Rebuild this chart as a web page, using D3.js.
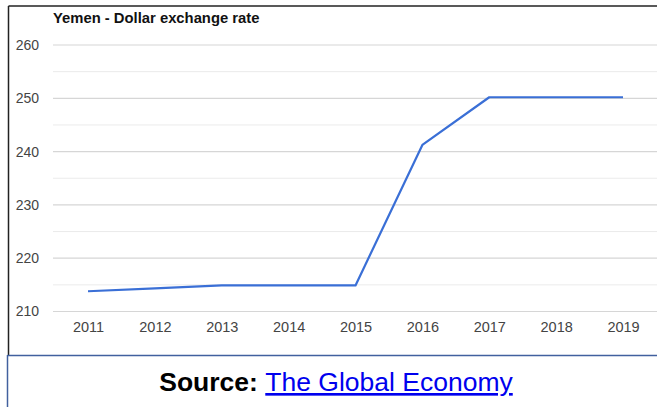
<!DOCTYPE html>
<html>
<head>
<meta charset="utf-8">
<script src="https://cdn.jsdelivr.net/npm/d3@7"></script>
<style>
  html, body { margin: 0; padding: 0; background: #fff; }
  svg { display: block; font-family: "Liberation Sans", Arial, sans-serif; }
</style>
</head>
<body>
<svg id="chart" width="657" height="407"></svg>
<script>
// Yemen: official rate, rials per US dollar
const years = ["2011", "2012", "2013", "2014", "2015", "2016", "2017", "2018", "2019"];
const rates = [213.8, 214.35, 214.89, 214.89, 214.89, 241.25, 250.2, 250.2, 250.2];
const majorTicks = [210, 220, 230, 240, 250, 260];
const minorTicks = [215, 225, 235, 245, 255];

const svg = d3.select("#chart");

const x = d3.scalePoint().domain(years).range([88, 623]);
const y = d3.scaleLinear().domain([210, 260]).range([311.5, 45]);

// frame around the chart panel
svg.append("line").attr("x1", 8.5).attr("x2", 657).attr("y1", 6).attr("y2", 6)
  .attr("stroke", "#222").attr("stroke-width", 1.5);
svg.append("line").attr("x1", 8.5).attr("x2", 8.5).attr("y1", 6).attr("y2", 355)
  .attr("stroke", "#222").attr("stroke-width", 1.5);

// caption box edges
svg.append("line").attr("x1", 7.5).attr("x2", 657).attr("y1", 355.5).attr("y2", 355.5)
  .attr("stroke", "#41609e").attr("stroke-width", 1.5);
svg.append("line").attr("x1", 7.5).attr("x2", 7.5).attr("y1", 355).attr("y2", 407)
  .attr("stroke", "#41609e").attr("stroke-width", 1.5);

// gridlines
const grid = svg.append("g");
grid.selectAll("line.minor").data(minorTicks).join("line")
  .attr("class", "minor")
  .attr("x1", 53).attr("x2", 657)
  .attr("y1", d => y(d)).attr("y2", d => y(d))
  .attr("stroke", "#ebebeb").attr("stroke-width", 1);
grid.selectAll("line.major").data(majorTicks).join("line")
  .attr("class", "major")
  .attr("x1", 53).attr("x2", 657)
  .attr("y1", d => y(d)).attr("y2", d => y(d))
  .attr("stroke", "#d6d6d6").attr("stroke-width", 1.2);

// y axis labels
const yAxis = d3.axisLeft(y).tickValues(majorTicks).tickSize(0).tickPadding(0);
svg.append("g").attr("transform", "translate(39,0)").call(yAxis)
  .call(g => g.select(".domain").remove())
  .call(g => g.selectAll("text")
    .attr("fill", "#444").attr("font-size", 14)
    .attr("font-family", "Liberation Sans, Arial, sans-serif"));

// x axis labels
const xAxis = d3.axisBottom(x).tickSize(0).tickPadding(0);
svg.append("g").attr("transform", "translate(0,322)").call(xAxis)
  .call(g => g.select(".domain").remove())
  .call(g => g.selectAll("text")
    .attr("fill", "#444").attr("font-size", 14.5)
    .attr("font-family", "Liberation Sans, Arial, sans-serif"));

// series line
const line = d3.line().x((d, i) => x(years[i])).y(d => y(d));
svg.append("path").datum(rates)
  .attr("d", line)
  .attr("fill", "none")
  .attr("stroke", "#3a6fd6")
  .attr("stroke-width", 2.2)
  .attr("stroke-linejoin", "round");

// title
svg.append("text")
  .attr("x", 53).attr("y", 22.5)
  .attr("font-size", 14.8).attr("font-weight", "bold").attr("fill", "#111")
  .text("Yemen - Dollar exchange rate");

// source caption
const cap = svg.append("text")
  .attr("x", 336).attr("y", 391)
  .attr("text-anchor", "middle")
  .attr("font-size", 26.5);
cap.append("tspan").attr("font-weight", "bold").attr("fill", "#000").text("Source: ");
cap.append("tspan").attr("fill", "#0000ee").attr("text-decoration", "underline")
  .text("The Global Economy");
</script>
</body>
</html>
